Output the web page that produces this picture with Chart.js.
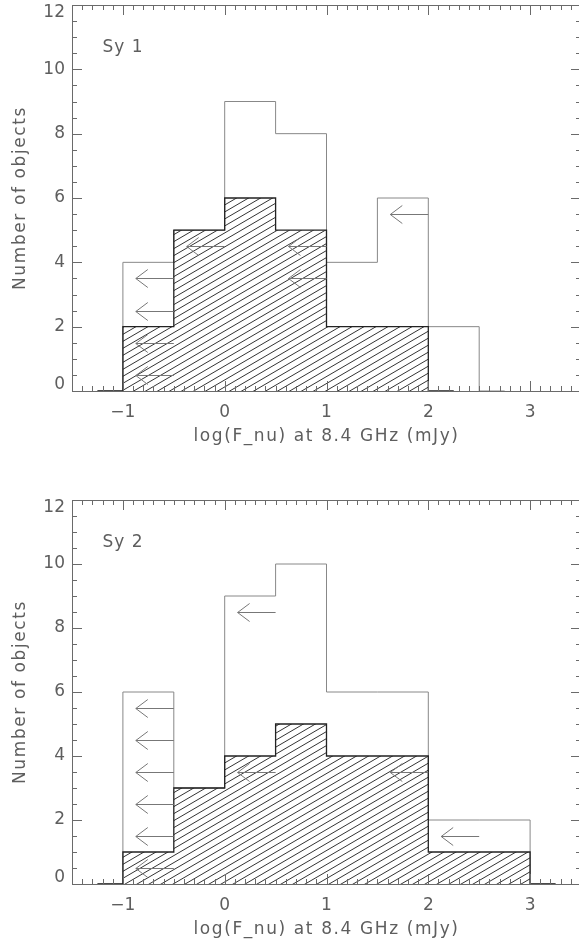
<!DOCTYPE html>
<html>
<head>
<meta charset="utf-8">
<script src="https://cdn.jsdelivr.net/npm/chart.js@4"></script>
<style>
  html, body { margin: 0; padding: 0; background: #fff; overflow: hidden; width: 579px; height: 947px; }
  canvas { position: absolute; left: 0; }
  #c1 { top: 0; }
  #c2 { top: 495px; }
</style>
</head>
<body>
<canvas id="c1" width="600" height="470"></canvas>
<canvas id="c2" width="600" height="452"></canvas>
<script>
// histogram bins (left edges, width 0.5 in log mJy)
const binLeft = [-1, -0.5, 0, 0.5, 1, 1.5, 2, 2.5];
const binWidth = 0.5;

const sy1Total    = [4, 5, 9, 8, 4, 6, 2, 0];
const sy1Detected = [2, 5, 6, 5, 2, 2, 0, 0];
const sy2Total    = [6, 3, 9, 10, 6, 6, 2, 2];
const sy2Detected = [1, 3, 4, 5, 4, 4, 1, 1];

// upper limits: arrow tail x and height
const sy1LimitX = [-0.5, -0.5, -0.5, -0.5, 0, 1, 1, 2];
const sy1LimitY = [0.5, 1.5, 2.5, 3.5, 4.5, 3.5, 4.5, 5.5];
const sy2LimitX = [-0.5, -0.5, -0.5, -0.5, -0.5, -0.5, 0.5, 0.5, 2, 2.5];
const sy2LimitY = [0.5, 1.5, 2.5, 3.5, 4.5, 5.5, 8.5, 3.5, 3.5, 1.5];

const xTicks = [-1, 0, 1, 2, 3];
const yTicks = [0, 2, 4, 6, 8, 10, 12];
const xTitle = 'log(F_nu) at 8.4 GHz (mJy)';
const yTitle = 'Number of objects';

const FONT = '17px "DejaVu Sans", sans-serif';
const TEXT = '#5e5e5e';
const AXIS = '#6a6a6a';

function steps(counts) {
  let n = counts.length;
  while (n > 0 && counts[n - 1] === 0) n--;
  const pts = [{x: binLeft[0] - binWidth / 2, y: 0}];
  for (let i = 0; i < n; i++) pts.push({x: binLeft[i], y: counts[i]});
  const end = binLeft[n - 1] + binWidth;
  pts.push({x: end, y: 0}, {x: end + binWidth / 2, y: 0});
  return pts;
}

function hatch() {
  const w = 12, h = 7;
  const c = document.createElement('canvas');
  c.width = w; c.height = h;
  const g = c.getContext('2d');
  g.strokeStyle = '#333';
  g.lineWidth = 1;
  for (let k = -1; k <= 1; k++) {
    g.beginPath();
    g.moveTo(0, h + k * h);
    g.lineTo(w, k * h);
    g.stroke();
  }
  return g.createPattern(c, 'repeat');
}

const framePlugin = {
  id: 'frame',
  afterDraw(chart, args, opts) {
    const {ctx, chartArea: a, scales: {x, y}} = chart;
    ctx.save();
    ctx.strokeStyle = AXIS;
    ctx.lineWidth = 1;
    ctx.strokeRect(a.left + 0.5, a.top + 0.5, a.right - a.left, a.bottom - a.top);
    ctx.beginPath();
    for (let i = -15; i <= 35; i++) {
      const px = Math.round(x.getPixelForValue(i / 10)) + 0.5;
      const len = i % 10 === 0 ? 10 : 5;
      ctx.moveTo(px, a.bottom); ctx.lineTo(px, a.bottom - len);
      ctx.moveTo(px, a.top); ctx.lineTo(px, a.top + len);
    }
    for (let i = 0; i <= 24; i++) {
      const py = Math.round(y.getPixelForValue(i / 2)) + 0.5;
      const len = i % 4 === 0 ? 10 : 5;
      ctx.moveTo(a.left, py); ctx.lineTo(a.left + len, py);
      ctx.moveTo(a.right, py); ctx.lineTo(a.right - len, py);
    }
    ctx.stroke();

    // upper-limit arrows
    ctx.strokeStyle = '#777';
    ctx.beginPath();
    opts.limitX.forEach((lx, i) => {
      const x0 = x.getPixelForValue(lx);
      const y0 = Math.round(y.getPixelForValue(opts.limitY[i])) + 0.5;
      const x1 = x0 - 38;
      ctx.moveTo(x0, y0); ctx.lineTo(x1, y0);
      ctx.moveTo(x1 + 12, y0 - 9); ctx.lineTo(x1, y0); ctx.lineTo(x1 + 12, y0 + 9);
    });
    ctx.stroke();

    // labels
    ctx.fillStyle = TEXT;
    ctx.font = FONT;
    ctx.textBaseline = 'middle';
    ctx.textAlign = 'right';
    yTicks.forEach(v => {
      const py = Math.min(Math.max(y.getPixelForValue(v), a.top + 8), a.bottom - 6);
      ctx.fillText(String(v), a.left - 7, py);
    });
    ctx.textAlign = 'center';
    xTicks.forEach(v => ctx.fillText(v < 0 ? '\u2212' + Math.abs(v) : String(v), x.getPixelForValue(v), a.bottom + 22));
    ctx.letterSpacing = '1.6px';
    ctx.fillText(xTitle, (a.left + a.right) / 2, a.bottom + 46);
    ctx.textAlign = 'left';
    ctx.letterSpacing = '1px';
    ctx.fillText(opts.name, x.getPixelForValue(-1.2), y.getPixelForValue(10.67));
    ctx.save();
    ctx.translate(21, (a.top + a.bottom) / 2);
    ctx.rotate(-Math.PI / 2);
    ctx.textAlign = 'center';
    ctx.letterSpacing = '1.6px';
    ctx.fillText(yTitle, 0, 0);
    ctx.restore();
    ctx.restore();
  }
};

function panel(id, name, total, detected, limitX, limitY, pad) {
  new Chart(document.getElementById(id), {
    type: 'line',
    data: {
      datasets: [
        {
          data: steps(detected),
          stepped: 'before',
          borderColor: '#222',
          borderWidth: 1.3,
          backgroundColor: hatch(),
          fill: 'origin',
          order: 0
        },
        {
          data: steps(total),
          stepped: 'before',
          borderColor: '#888',
          borderWidth: 1,
          fill: false,
          order: 1
        }
      ]
    },
    options: {
      responsive: false,
      animation: false,
      devicePixelRatio: 1,
      layout: {padding: pad},
      elements: {point: {radius: 0}},
      scales: {
        x: {type: 'linear', min: -1.5, max: 3.5, display: false},
        y: {min: 0, max: 12, display: false}
      },
      plugins: {
        legend: {display: false},
        tooltip: {enabled: false},
        frame: {name: name, limitX: limitX, limitY: limitY}
      }
    },
    plugins: [framePlugin]
  });
}

panel('c1', 'Sy 1', sy1Total, sy1Detected, sy1LimitX, sy1LimitY, {left: 72, right: 19, top: 5, bottom: 79});
panel('c2', 'Sy 2', sy2Total, sy2Detected, sy2LimitX, sy2LimitY, {left: 72, right: 19, top: 5, bottom: 63});
</script>
</body>
</html>
